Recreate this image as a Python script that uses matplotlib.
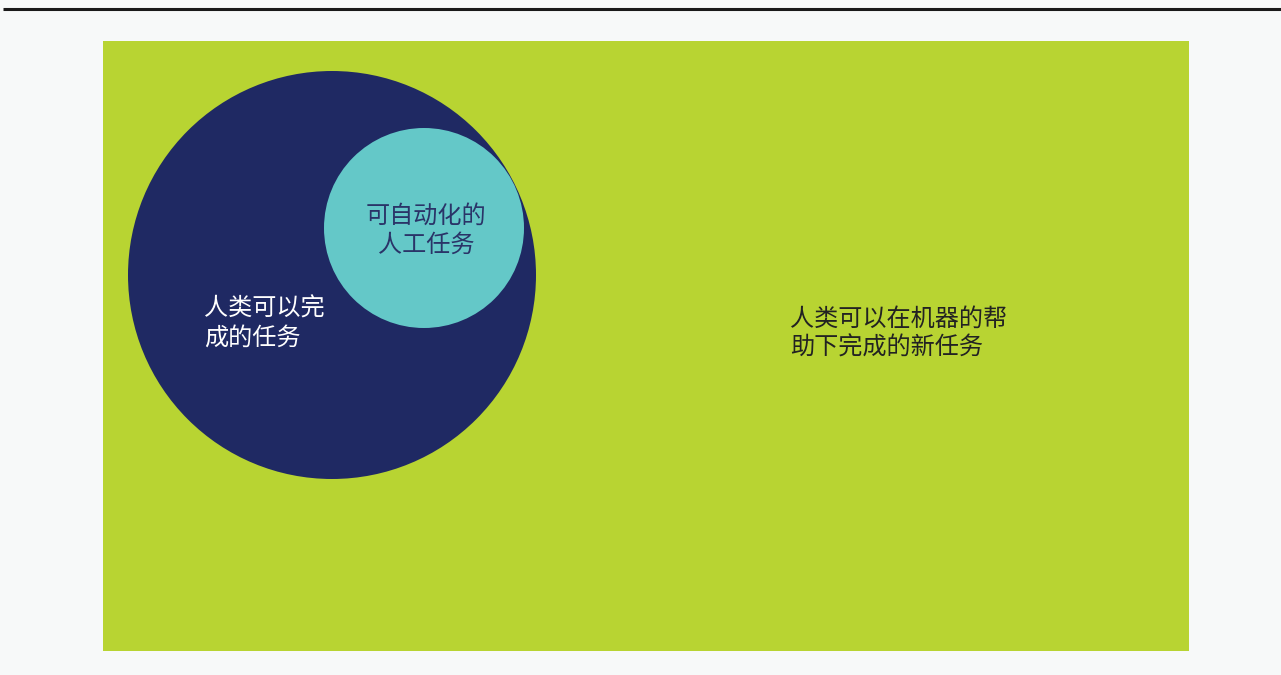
import matplotlib.pyplot as plt
from matplotlib.patches import Rectangle, Circle

plt.rcParams['font.family'] = ['Noto Sans CJK SC', 'DejaVu Sans']

# 区域: (标签, 中心x, 中心y, 半径)
outer_label = "人类可以完\n成的任务"
inner_label = "可自动化的\n人工任务"
field_label = "人类可以在机器的帮\n助下完成的新任务"

outer_circle = (332, 275, 204)
inner_circle = (424, 228, 100)
field_box = (103, 41, 1086, 610)

fig = plt.figure(figsize=(12.81, 6.75), dpi=100)
fig.patch.set_facecolor("#f7f9f9")
ax = fig.add_axes([0, 0, 1, 1])
ax.set_xlim(0, 1281)
ax.set_ylim(675, 0)
ax.axis("off")

# 顶部分隔线
ax.plot([3, 1281], [9, 9], color="#1a1a1a", lw=2.2, solid_capstyle="butt")

x0, y0, w, h = field_box
ax.add_patch(Rectangle((x0, y0), w, h, facecolor="#b8d432", edgecolor="none"))

cx, cy, r = outer_circle
ax.add_patch(Circle((cx, cy), r, facecolor="#1f2963", edgecolor="none"))

cx, cy, r = inner_circle
ax.add_patch(Circle((cx, cy), r, facecolor="#64c8c8", edgecolor="none"))

ax.text(204, 323, outer_label, color="white", fontsize=17.4,
        ha="left", va="center", linespacing=1.15)
ax.text(426, 230, inner_label, color="#2a3468", fontsize=17.4,
        ha="center", va="center", linespacing=1.15, multialignment="center")
ax.text(790, 333, field_label, color="#222222", fontsize=17.4,
        ha="left", va="center", linespacing=1.15)

fig.savefig("out.png", dpi=100, facecolor=fig.get_facecolor())
